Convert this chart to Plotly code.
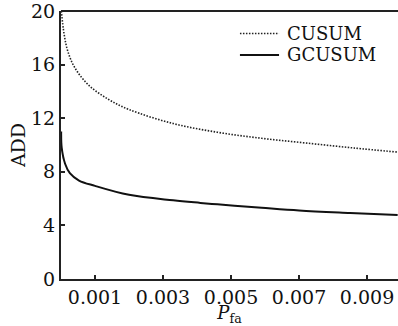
import plotly.graph_objects as go

cusum_pfa = [0.00001, 0.00009, 0.0002, 0.0004, 0.0008, 0.0014, 0.002, 0.0033, 0.0046, 0.0059, 0.0072, 0.0086, 0.0099]
cusum_add = [20.0, 18.3, 17.0, 15.8, 14.5, 13.4, 12.65, 11.6, 10.95, 10.5, 10.15, 9.78, 9.47]

gcusum_pfa = [0.000005, 0.00002, 0.00012, 0.00026, 0.00053, 0.001, 0.002, 0.0033, 0.0041, 0.0046, 0.0051, 0.0059, 0.0070, 0.0085, 0.0099]
gcusum_add = [11.0, 9.8, 8.6, 7.9, 7.35, 6.95, 6.28, 5.87, 5.68, 5.57, 5.47, 5.32, 5.12, 4.93, 4.77]

series_names = ["CUSUM", "GCUSUM"]

x_ticks = [0.001, 0.003, 0.005, 0.007, 0.009]
x_labels = ["0.001", "0.003", "0.005", "0.007", "0.009"]
y_ticks = [0, 4, 8, 12, 16, 20]

FONT = "DejaVu Serif"
FS = 19
DOT = "1.5px,1.5px"

fig = go.Figure()
fig.add_trace(go.Scatter(x=cusum_pfa, y=cusum_add, mode="lines", name=series_names[0],
                         line=dict(color="#222", width=1.6, dash=DOT, shape="spline")))
fig.add_trace(go.Scatter(x=gcusum_pfa, y=gcusum_add, mode="lines", name=series_names[1],
                         line=dict(color="#111", width=2, shape="spline")))

fig.update_layout(
    width=398, height=326,
    margin=dict(l=61, r=0, t=8, b=47),
    paper_bgcolor="white", plot_bgcolor="white",
    font=dict(family=FONT, size=FS, color="#111"),
    showlegend=False,
    xaxis=dict(range=[0, 0.00991], tickvals=x_ticks, ticktext=x_labels,
               showgrid=False, zeroline=False, showline=True, linecolor="#222", linewidth=2,
               mirror=False, ticks="inside", ticklen=4, tickwidth=1.5, tickcolor="#222",
               ticklabeloverflow="allow",
               title=dict(text="<i>P</i><sub>fa</sub>", font=dict(family=FONT, size=18), standoff=5),
               tickfont=dict(family=FONT, size=FS)),
    yaxis=dict(range=[0, 20.001], tickvals=y_ticks,
               showgrid=False, zeroline=False, showline=True, linecolor="#222", linewidth=2,
               ticks="inside", ticklen=4, tickwidth=1.5, tickcolor="#222",
               ticklabeloverflow="allow",
               title=dict(text="ADD", font=dict(family=FONT, size=FS), standoff=0),
               tickfont=dict(family=FONT, size=FS)),
)
# top frame line
fig.add_shape(type="line", xref="paper", yref="paper", x0=0, x1=1, y0=1, y1=1,
              line=dict(color="#222", width=2))

# legend drawn manually for compact spacing
leg_rows = [0.916, 0.836]
leg_styles = [dict(color="#222", width=1.6, dash=DOT), dict(color="#111", width=2)]
for name, yy, st in zip(series_names, leg_rows, leg_styles):
    fig.add_shape(type="line", xref="paper", yref="paper", x0=0.531, x1=0.647, y0=yy, y1=yy,
                  line=st)
    fig.add_annotation(xref="paper", yref="paper", x=0.668, y=yy, text=name, showarrow=False,
                       xanchor="left", yanchor="middle", borderpad=0,
                       font=dict(family=FONT, size=18, color="#111"))

fig.write_html("out.html")
